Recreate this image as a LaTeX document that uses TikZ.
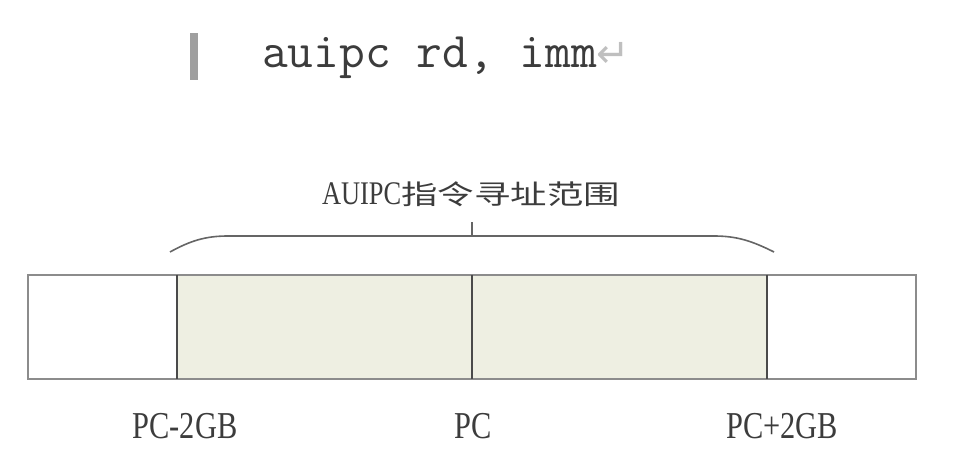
\documentclass[tikz,border=0pt]{standalone}
\usepackage{fontspec}
\setmainfont{Liberation Serif}
\newfontfamily\addrfont[FakeStretch=0.8]{Liberation Serif}
\newfontfamily\cjkfont[FakeStretch=1.35]{Noto Sans CJK SC}
\newfontfamily\symfont{DejaVu Sans}
\usetikzlibrary{positioning}
\definecolor{rangefill}{HTML}{EEEFE2}
\definecolor{edgegray}{HTML}{8C8C8C}
\definecolor{divgray}{HTML}{4A4A4A}
\definecolor{textgray}{HTML}{3C3C3C}
\begin{document}
\begin{tikzpicture}[x=1pt, y=-1pt,
        cell/.style={draw=edgegray, line width=2pt, minimum height=104pt, inner sep=0pt, outer sep=0pt},
        side/.style={cell, fill=white, minimum width=149pt},
        span/.style={cell, fill=rangefill, minimum width=295pt},
        divider/.style={draw=divgray, line width=2.6pt},
        addr/.style={font=\addrfont\fontsize{38}{38}\selectfont, text=textgray, inner sep=0pt, anchor=north},
        brace/.style={draw=divgray!85, line width=1.6pt}
    ]
    \useasboundingbox (0,0) rectangle (964,462);
    % instruction line
    \node (bar) [fill=gray!75, minimum width=8pt, minimum height=47pt, inner sep=0pt, anchor=north west] at (190,33) {};
    \node (instr) [font=\ttfamily\fontsize{50}{50}\selectfont, text=textgray, inner sep=0pt, anchor=base west] at (262,68)
        {auipc rd, imm{\symfont\fontsize{40}{40}\selectfont\color{gray!50}↵}};

    % address range
    \node (lo) [side, anchor=north west] at (28,275) {};
    \node (lower) [span, right=0pt of lo] {};
    \node (upper) [span, right=0pt of lower] {};
    \node (hi) [side, right=0pt of upper] {};

    \draw [divider] (lower.north west) -- (lower.south west);
    \draw [divider] (upper.north west) -- (upper.south west);
    \draw [divider] (hi.north west) -- (hi.south west);

    \node (pcmin) [addr, below=34pt of lower.south west, xshift=8pt] {PC-2GB};
    \node (pc) [addr, below=34pt of upper.south west, xshift=1pt] {PC};
    \node (pcmax) [addr, below=34pt of hi.south west, xshift=15pt] {PC+2GB};

    % brace
    \coordinate (tick) at (472,236);
    \draw [brace] (170,252) .. controls (190,241) and (205,236) .. (228,236) -- (714,236)
        .. controls (737,236) and (752,241) .. (774,252);
    \draw [brace] (tick) -- ++(0,-14);
    \node (title) [text=textgray, inner sep=0pt, anchor=base] at (471,205)
        {{\addrfont\fontsize{33}{33}\selectfont AUIPC}{\cjkfont\fontsize{27}{27}\selectfont 指令寻址范围}};
\end{tikzpicture}
\end{document}
